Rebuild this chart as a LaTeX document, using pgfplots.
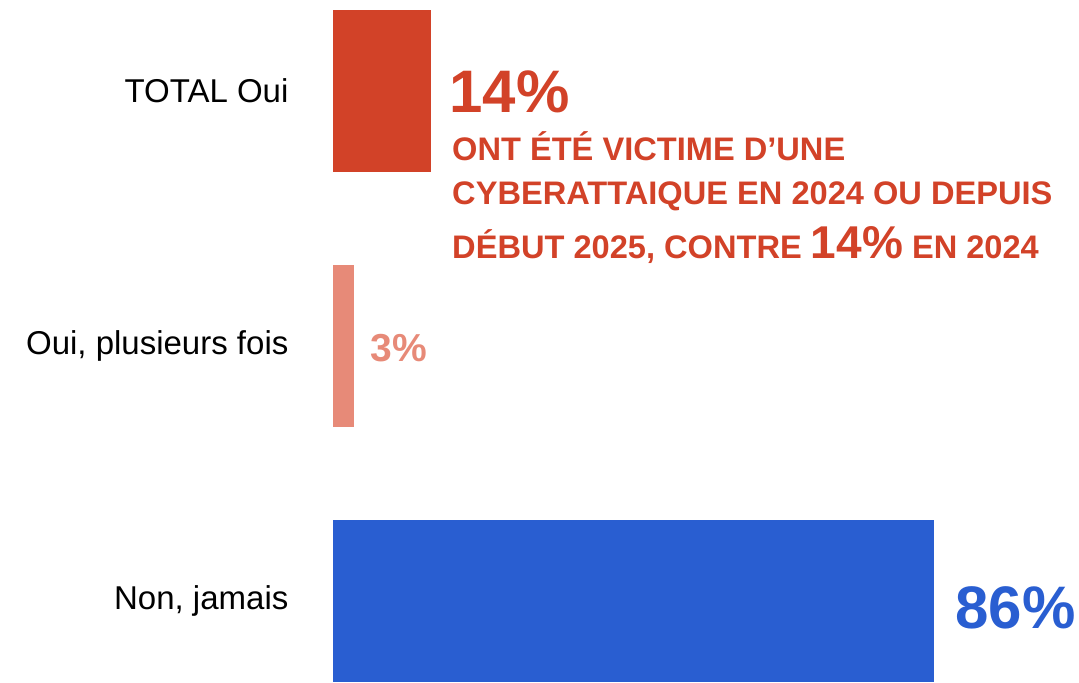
\documentclass[border=0pt]{standalone}
\usepackage{fontspec}
\setmainfont{Liberation Sans}
\usepackage{pgfplots}
\pgfplotsset{compat=1.18}
\definecolor{totred}{HTML}{D24228}
\definecolor{lightred}{HTML}{E78A78}
\definecolor{nonblue}{HTML}{295ED1}

\begin{document}
\begin{tikzpicture}
\useasboundingbox (-166.5pt,0) rectangle (373pt,341pt);
\begin{axis}[
    at={(0,0)}, anchor=south west,
    scale only axis,
    width=373pt, height=341pt,
    xbar, bar width=81pt, bar shift=0pt,
    xmin=0, xmax=106.72,
    ymin=-0.3176, ymax=2.3569,
    axis line style={draw=none},
    xtick=\empty,
    ytick={0,1,2},
    yticklabels={{Non, jamais},{Oui, plusieurs fois},{TOTAL Oui}},
    y tick style={draw=none},
    yticklabel style={font=\fontsize{16.5}{18}\selectfont, anchor=east, xshift=-14.5pt},
    clip=false,
]
\addplot[fill=nonblue, draw=none] coordinates {(86,0)};
\addplot[fill=lightred, draw=none] coordinates {(3,1)};
\addplot[fill=totred, draw=none] coordinates {(14,2)};

\node[anchor=base west, inner sep=0, text=totred, font=\bfseries\fontsize{30}{32}\selectfont] at (axis cs:16.6,1.914) {14\%};
\node[anchor=base west, inner sep=0, text=totred, font=\bfseries\fontsize{16.3}{18}\selectfont] at (axis cs:17.0,1.729) {ONT ÉTÉ VICTIME D’UNE};
\node[anchor=base west, inner sep=0, text=totred, font=\bfseries\fontsize{16.3}{18}\selectfont] at (axis cs:17.0,1.553) {CYBERATTAIQUE EN 2024 OU DEPUIS};
\node[anchor=base west, inner sep=0, text=totred, font=\bfseries\fontsize{16.3}{18}\selectfont] at (axis cs:17.0,1.345) {DÉBUT 2025, CONTRE {\fontsize{23}{24}\selectfont 14\%} EN 2024};
\node[anchor=base west, inner sep=0, text=lightred, font=\bfseries\fontsize{19.5}{20}\selectfont] at (axis cs:5.29,0.94) {3\%};
\node[anchor=base west, inner sep=0, text=nonblue, font=\bfseries\fontsize{30}{32}\selectfont] at (axis cs:89.0,-0.106) {86\%};
\end{axis}
\end{tikzpicture}
\end{document}
